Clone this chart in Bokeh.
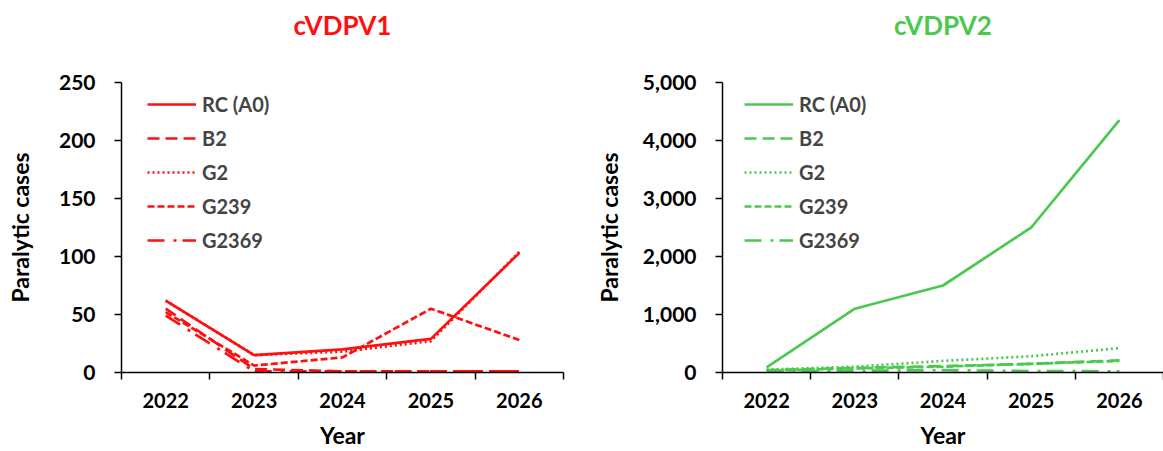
from bokeh.plotting import figure
from bokeh.layouts import row
from bokeh.models import Range1d, FixedTicker, NumeralTickFormatter, Legend, LegendItem, LinearAxis
from bokeh.embed import file_html
from bokeh.resources import INLINE

years = ["2022", "2023", "2024", "2025", "2026"]
series_names = ["RC (A0)", "B2", "G2", "G239", "G2369"]

# cVDPV1 paralytic cases
v1_rc = [62, 15, 20, 29, 103]
v1_b2 = [55, 3, 1, 1, 1]
v1_g2 = [62, 15, 18, 27, 104]
v1_g239 = [52, 6, 13, 55, 28]
v1_g2369 = [49, 1, 1, 1, 1]

# cVDPV2 paralytic cases
v2_rc = [90, 1100, 1500, 2500, 4350]
v2_b2 = [40, 80, 110, 150, 210]
v2_g2 = [50, 100, 200, 280, 420]
v2_g239 = [30, 70, 100, 150, 200]
v2_g2369 = [20, 30, 40, 25, 20]

FONT = "Lato"
DASHES = ["solid", "12 6", "2 3", "7 3", "17 9 3 6"]


def make_panel(title, color, data, yend, ystep, comma, width, mbl, mbr, toff, leg_x, ylab_standoff):
    p = figure(width=width, height=451, x_range=Range1d(0, 5), y_range=Range1d(0, yend),
               output_backend="svg", toolbar_location=None,
               min_border_left=mbl, min_border_right=mbr, min_border_top=82, min_border_bottom=79)
    p.outline_line_color = None
    p.xgrid.visible = False
    p.ygrid.visible = False

    p.title.text = title
    p.title.align = "center"
    p.title.text_color = color
    p.title.text_font = FONT
    p.title.text_font_style = "bold"
    p.title.text_font_size = "26px"
    p.title.offset = toff

    xs = [i + 0.5 for i in range(len(years))]
    items = []
    for name, vals, dash in zip(series_names, data, DASHES):
        r = p.line(xs, vals, line_color=color, line_width=2.7, line_dash=dash)
        items.append(LegendItem(label=name, renderers=[r]))

    leg = Legend(items=items, location=(leg_x, 120))
    leg.glyph_width = 49
    leg.glyph_height = 22
    leg.label_height = 22
    leg.spacing = 10
    leg.padding = 0
    leg.margin = 0
    leg.label_standoff = 6
    leg.label_text_font = FONT
    leg.label_text_font_style = "bold"
    leg.label_text_font_size = "20px"
    leg.border_line_color = None
    leg.background_fill_alpha = 0
    p.add_layout(leg)

    xa = p.below[0]
    xa.ticker = FixedTicker(ticks=xs, minor_ticks=[0, 1, 2, 3, 4, 5])
    xa.major_label_overrides = {x: y for x, y in zip(xs, years)}
    xa.major_tick_out = 0
    xa.major_tick_in = 0
    xa.minor_tick_out = 7
    xa.minor_tick_in = 0
    xa.minor_tick_line_color = "black"
    xa.minor_tick_line_width = 1.5
    xa.axis_line_color = "black"
    xa.axis_line_width = 1.5
    xa.major_label_standoff = 13
    xa.major_label_text_font = FONT
    xa.major_label_text_font_style = "bold"
    xa.major_label_text_font_size = "20px"
    xa.major_label_text_color = "black"
    xa.axis_label = "Year"
    xa.axis_label_text_font = FONT
    xa.axis_label_text_font_style = "bold"
    xa.axis_label_text_font_size = "23px"
    xa.axis_label_text_color = "black"
    xa.axis_label_standoff = 10

    ya = p.left[0]
    ya.ticker = FixedTicker(ticks=list(range(0, yend + 1, ystep)), minor_ticks=[])
    if comma:
        ya.formatter = NumeralTickFormatter(format="0,0")
    ya.major_tick_out = 7
    ya.major_tick_in = 0
    ya.major_tick_line_color = "black"
    ya.major_tick_line_width = 1.5
    ya.minor_tick_line_color = None
    ya.axis_line_color = "black"
    ya.axis_line_width = 1.5
    ya.major_label_standoff = 19
    ya.major_label_text_font = FONT
    ya.major_label_text_font_style = "bold"
    ya.major_label_text_font_size = "21px"
    ya.major_label_text_color = "black"
    ya.axis_label = "Paralytic cases"
    ya.axis_label_text_font = FONT
    ya.axis_label_text_font_style = "bold"
    ya.axis_label_text_font_size = "23px"
    ya.axis_label_text_color = "black"
    ya.axis_label_standoff = ylab_standoff

    # invisible spacer between plot area and title: one hidden tick, no label text
    spacer = LinearAxis(ticker=FixedTicker(ticks=[2.5], minor_ticks=[]),
                        major_label_overrides={2.5: ""},
                        major_tick_out=37, major_tick_in=0,
                        minor_tick_out=0, minor_tick_in=0,
                        major_label_standoff=0, axis_line_color=None,
                        major_tick_line_color=None, minor_tick_line_color=None,
                        major_label_text_font_size="0px")
    p.add_layout(spacer, "above")
    return p


RED = "#FF1010"
GREEN = "#4CC850"

p1 = make_panel("cVDPV1", RED, [v1_rc, v1_b2, v1_g2, v1_g239, v1_g2369],
                250, 50, False, 580, 121, 17, -8, 26, 22)
p2 = make_panel("cVDPV2", GREEN, [v2_rc, v2_b2, v2_g2, v2_g239, v2_g2369],
                5000, 1000, True, 583, 142, 0, -8, 22, 17)

layout = row(p1, p2)
open("out.html", "w").write(file_html(layout, INLINE))
